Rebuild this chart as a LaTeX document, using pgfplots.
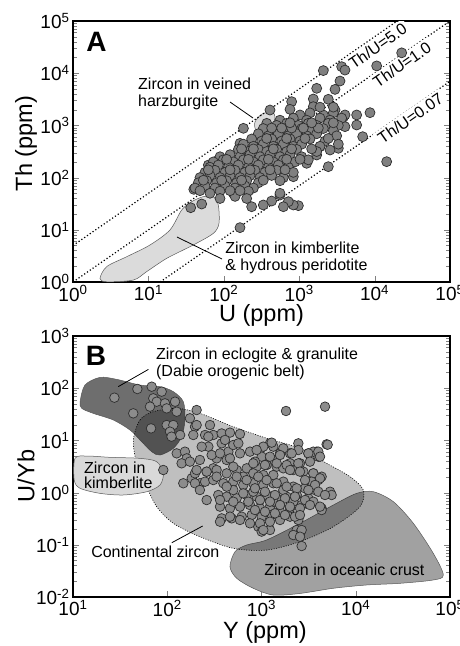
\documentclass[border=0pt]{standalone}
\usepackage{fontspec}
\setmainfont{Liberation Sans}
\usepackage{pgfplots}
\usepackage{pgfplotstable}
\pgfplotsset{compat=1.18}

\definecolor{ptfillA}{gray}{0.50}
\definecolor{ptfillB}{gray}{0.55}
\definecolor{ptedge}{gray}{0.18}
\definecolor{kimA}{gray}{0.86}
\definecolor{regedge}{gray}{0.35}
\definecolor{eclog}{gray}{0.43}
\definecolor{ocean}{gray}{0.63}
\definecolor{kimB}{gray}{0.85}

\newcommand{\annfont}{\fontsize{16}{17}\selectfont}
\newcommand{\tlab}{10\textsuperscript{\pgfmathtruncatemacro\myex{round(\tick/ln(10))}\myex}}

\pgfplotstableread{
U Th
2089 11220
3656 13340
4046 11480
10650 13800
22860 24550
3475 7080
1706 5130
2985 4900
794 2851
1539 3206
2432 3162
410 1972
755 2032
182 879
371 918
5781 1585
8690 1754
5781 1018
6950 608
14450 202
2432 162
1706 271
3304 364
1256 188
836 104
975 29
836 29.9
718 34.6
617 27.7
556 46.4
431 35.6
334 29.9
234 27.7
164 11
50.9 31.2
36.4 26.5
40 59.6
48.3 77.6
62.4 174
84.6 217
164 453
3846 1429
4046 946
1888 392
2564 338
2985 1972
1539 2286
1025 1585
1390 1738
2089 1585
2838 1738
4046 1585
556 1259
836 1380
1256 1259
1888 1380
2564 1259
3656 1380
371 1096
502 1000
682 1096
975 1000
1321 1096
1706 1000
2432 1096
3304 1000
334 871
454 794
617 871
836 794
1079 871
1462 794
2089 871
2838 794
287 692
390 631
529 692
718 631
925 692
1256 631
1706 692
3141 631
234 550
318 501
431 550
585 501
755 550
1025 501
1390 550
2198 501
182 437
247 398
334 437
454 398
617 437
836 398
1079 437
1888 398
3304 437
156 347
212 316
287 347
371 316
502 347
682 316
925 347
1706 316
89.1 251
121 275
164 251
223 275
302 251
410 275
556 251
755 275
1079 251
72.7 200
98.6 219
134 200
182 219
247 200
334 219
454 200
617 219
879 200
1321 219
65.6 158
84.6 174
115 158
156 174
212 158
287 174
390 158
529 174
718 158
56.3 126
76.4 138
104 126
141 138
191 126
259 138
352 126
502 138
836 126
48.3 100
65.6 110
89.1 100
121 110
164 100
223 110
302 100
431 110
617 100
45.9 79.4
59.3 87.1
80.4 79.4
109 87.1
148 79.4
201 87.1
287 79.4
556 87.1
41.5 63.1
56.3 69.2
76.4 63.1
104 69.2
141 63.1
191 69.2
247 63.1
65.6 50.1
89.1 55
134 50.1
212 55
556 50.1
89.1 39.8
141 43.7
201 39.8
431 891
585 891
794 891
1135 891
1795 891
371 562
682 562
1194 562
2432 562
172 355
247 355
454 355
794 355
1462 355
109 224
212 224
390 224
682 224
1025 224
62.4 141
121 141
223 141
410 141
649 141
53.6 89.1
93.7 89.1
172 89.1
334 89.1
48.3 56.2
121 56.2
164 56.2
755 1122
1462 1122
2838 1122
1888 2239
2838 2239
}\dataA

\pgfplotstableread{
Y UYb
27.5 65.9
48.2 96.6
68.4 107
87.3 85.9
71.1 64.0
77.2 55.2
94.6 51.3
121 55.2
98.6 41.1
126 35.5
65.6 44.3
43.6 33.0
67.3 17.0
98.6 19.7
116 19.7
107 14.7
137 12.7
111 11.8
174 26.5
205 38.2
197 18.3
189 12.7
284 19.7
252 12.7
308 12.7
378 13.6
126 5.65
154 6.09
161 4.53
142 3.64
90.8 2.71
148 1.51
182 1.88
222 1.51
197 2.34
262 2.52
308 2.92
273 7.59
232 7.59
378 8.79
445 6.09
334 4.53
427 4.22
262 0.72
205 19.7
273 11.8
463 14.1
591 13.3
410 10.2
502 8.17
568 8.79
174 3.92
222 4.22
296 5.25
363 5.65
463 4.53
591 5.65
755 6.09
964 6.55
1230 8.79
1335 7.59
1572 5.65
1004 4.88
1335 4.22
2007 5.65
2460 8.79
3141 5.65
3846 6.09
4909 8.41
4009 4.88
2007 3.64
2561 3.64
205 2.71
262 2.52
334 2.71
427 2.34
545 2.71
696 2.92
888 3.14
1134 3.38
1449 3.14
1705 2.92
2177 2.71
2780 2.52
3548 2.34
4345 2.02
4009 1.74
3270 1.62
197 1.51
252 1.62
308 1.74
394 1.51
502 1.62
641 1.40
819 1.51
1045 1.40
1335 1.51
1705 1.62
2177 1.30
2897 1.21
3698 1.12
5333 1.04
348 0.900
427 0.836
545 0.777
696 0.900
888 0.836
1134 0.900
1449 0.777
1850 0.836
2362 0.900
3141 0.777
5546 0.900
363 0.538
463 0.500
591 0.538
755 0.578
964 0.500
1230 0.538
1572 0.578
2007 0.500
2667 0.578
4345 0.500
378 0.321
482 0.321
616 0.346
787 0.372
1004 0.346
1282 0.372
1572 0.299
2007 0.346
2460 0.299
925 0.222
1230 0.192
1004 0.179
2362 0.192
2561 0.166
2177 0.154
2667 0.0948
1820 36.6
4721 44.3
5035 8.28
3548 6.09
363 0.277
819 2.34
1045 2.17
1335 2.17
641 2.02
502 1.12
819 1.04
1705 1.12
1335 0.670
2177 0.670
755 0.258
1572 0.431
222 1.12
1282 9.06
2460 6.55
3141 5.65
4009 6.09
4178 4.88
3270 3.92
2089 5.65
1705 7.05
1045 7.59
888 6.55
1230 4.88
1572 5.25
853 3.92
1089 3.38
1449 3.64
1850 3.38
2460 3.64
2007 2.71
2561 2.52
3548 2.34
4178 1.88
3404 1.62
2897 1.74
3698 1.40
4009 1.04
4721 0.900
3141 1.12
2362 1.21
1850 1.30
1449 1.51
1134 1.74
925 2.02
853 1.21
1089 1.04
1390 0.900
1775 0.777
2265 0.836
2897 0.722
3548 0.670
4345 0.464
4178 0.538
3270 0.578
2561 0.500
2007 0.538
1572 0.578
1230 0.670
964 0.722
853 0.464
1089 0.431
1390 0.401
1775 0.372
2265 0.346
2561 0.372
1230 0.277
964 0.258
1045 0.192
2667 0.192
2561 0.143
334 2.02
427 1.30
545 2.02
502 0.670
641 0.968
363 0.722
463 0.346
591 0.299
725 0.670
696 1.74
502 3.14
819 3.64
}\dataB

\begin{document}
\begin{tikzpicture}
\useasboundingbox (0,0) rectangle (459pt,-646pt);

% ---------------- Panel A ----------------
\begin{axis}[
  scale only axis, width=377pt, height=261pt,
  xmode=log, ymode=log,
  axis line style={line width=1.3pt},
  major tick length=6pt, minor tick length=4pt,
  xminorticks=false,
  xtick pos=left,
  ytick pos=both,
  tick label style={font=\fontsize{19}{21}\selectfont},
  xticklabel={\tlab},
  yticklabel={\tlab},
  label style={font=\fontsize{23.5}{26}\selectfont},
  at={(73pt,-282pt)}, anchor=south west,
  xmin=1, xmax=1e5, ymin=1, ymax=1e5,
  xlabel={U (ppm)}, ylabel={Th (ppm)},
  xlabel style={at={(rel axis cs:0.5,0)}, anchor=center, yshift=-33pt},
  ylabel style={at={(rel axis cs:0,0.53)}, anchor=center, yshift=47pt},
]
% kimberlite & hydrous peridotite field
\addplot[smooth cycle, fill=kimA, draw=regedge, line width=0.5pt] coordinates {
(2.28,1.17) (2.80,1.97) (5.15,3.05) (10.5,5.12) (19.3,9.91) (27.6,23.9)
(37.5,34.6) (53.6,43.2) (72.6,43.2) (84.5,29.9) (86.3,13.3) (72.6,8.55)
(39.4,5.12) (17.5,2.84) (9.48,1.58) (6.31,1.09) (2.80,1.01)};
% veined harzburgite field
\addplot[smooth cycle, fill=kimA, draw=regedge, line width=0.5pt] coordinates {
(259,1161) (321,1652) (436,1806) (478,1449) (436,974) (341,781) (267,817)};
% Th/U reference lines
\addplot[black, line width=1.2pt, dash pattern=on 1.2pt off 2.2pt] coordinates {(1,5) (20000,100000)};
\addplot[black, line width=1.2pt, dash pattern=on 1.2pt off 2.2pt] coordinates {(1,1) (100000,100000)};
\addplot[black, line width=1.2pt, dash pattern=on 1.2pt off 2.2pt] coordinates {(14.29,1) (100000,7000)};
% labels on the lines (white background masks the line)
\node[rotate=34.7, yshift=-9.5pt, anchor=center, fill=white, inner sep=2.5pt, font=\annfont] at (axis cs:9354,46770) {Th/U=5.0};
\node[rotate=34.7, yshift=-8.5pt, anchor=center, fill=white, inner sep=2.5pt, font=\annfont] at (axis cs:19900,19900) {Th/U=1.0};
\node[rotate=34.7, yshift=-8pt, anchor=center, fill=white, inner sep=2.5pt, font=\annfont] at (axis cs:25940,1816) {Th/U=0.07};
% data
\addplot[only marks, mark=*, mark size=5pt,
  mark options={fill=ptfillA, draw=ptedge, line width=0.7pt}] table[x=U, y=Th] {\dataA};
% annotations
\node[anchor=north west, inner sep=0pt, align=left, font=\annfont] at (axis cs:7.28,8090) {Zircon in veined\\harzburgite};
\draw[black, line width=0.8pt] (axis cs:121,2805) -- (axis cs:244,1387);
\node[anchor=north west, inner sep=0pt, align=left, font=\annfont] at (axis cs:104,5.84) {Zircon in kimberlite\\\& hydrous peridotite};
\draw[black, line width=0.8pt] (axis cs:23.9,7.28) -- (axis cs:94.7,2.76);
\node[font=\fontsize{28}{30}\selectfont\bfseries] at (rel axis cs:0.062,0.92) {A};
\end{axis}

% ---------------- Panel B ----------------
\begin{axis}[
  scale only axis, width=377pt, height=261pt,
  xmode=log, ymode=log,
  axis line style={line width=1.3pt},
  major tick length=6pt, minor tick length=4pt,
  xminorticks=false,
  xtick pos=left,
  ytick pos=both,
  tick label style={font=\fontsize{19}{21}\selectfont},
  xticklabel={\tlab},
  yticklabel={\tlab},
  label style={font=\fontsize{23.5}{26}\selectfont},
  at={(73pt,-597pt)}, anchor=south west,
  xmin=10, xmax=1e5, ymin=0.01, ymax=1000,
  xlabel={Y (ppm)}, ylabel={U/Yb},
  xlabel style={at={(rel axis cs:0.509,0)}, anchor=center, yshift=-35pt},
  ylabel style={at={(rel axis cs:0,0.464)}, anchor=center, yshift=47pt},
]
% oceanic crust
\addplot[smooth cycle, fill=ocean, draw=regedge, line width=0.5pt] coordinates {
(463,0.0381) (524,0.0738) (696,0.0991) (1134,0.124) (2561,0.258) (5781,0.578)
(10230,0.968) (15380,1.04) (25060,0.670) (40830,0.258) (66530,0.0685)
(84920,0.0264) (66530,0.0212) (29440,0.0183) (13060,0.0170) (5781,0.0147)
(2561,0.0117) (1336,0.0109) (818,0.0147) (546,0.0228)};
% eclogite & granulite (Dabie)
\addplot[smooth cycle, fill=eclog, draw=regedge, line width=0.5pt] coordinates {
(11.9,55.2) (13.4,115) (19.3,161) (29.0,148) (51.4,115) (83.8,107) (116,85.9)
(148,55.2) (154,24.6) (142,11.8) (116,7.05) (83.8,5.25) (68.4,6.08) (51.4,10.2)
(40.3,15.8) (26.8,24.6) (16.4,33.0) (12.4,41.1)};
% continental zircon
\addplot[smooth cycle, fill=black, fill opacity=0.25, draw=black,
  line width=0.6pt, dash pattern=on 1pt off 1.5pt] coordinates {
(43.7,10.2) (51.4,24.6) (71.1,35.5) (126,41.1) (222,33.0) (502,18.3) (1135,11.0)
(2559,7.05) (4909,3.64) (8690,2.02) (12020,1.12) (11090,0.538) (5781,0.222)
(2559,0.115) (1135,0.0794) (502,0.0855) (222,0.143) (116,0.258) (77.3,0.538)
(60.5,1.30) (47.4,3.64)};
% kimberlite
\addplot[smooth cycle, fill=kimB, draw=regedge, line width=0.5pt] coordinates {
(10.5,4.53) (14.0,5.02) (24.7,4.74) (51.4,4.53) (77.3,3.92) (90.8,2.34)
(83.8,1.40) (60.5,1.04) (34.2,0.900) (19.3,0.968) (11.9,1.21) (10.3,1.74)};
% data
\addplot[only marks, mark=*, mark size=4.8pt,
  mark options={fill=ptfillB, draw=ptedge, line width=0.7pt}] table[x=Y, y=UYb] {\dataB};
% labels
\node[anchor=north west, inner sep=0pt, align=left, font=\annfont] at (rel axis cs:0.220,0.954) {Zircon in eclogite \& granulite\\(Dabie orogenic belt)};
\draw[black, line width=0.8pt] (rel axis cs:0.120,0.806) -- (rel axis cs:0.200,0.872);
\node[anchor=north west, inner sep=0pt, align=left, font=\fontsize{16}{15}\selectfont] at (rel axis cs:0.029,0.517) {Zircon in\\kimberlite};
\node[anchor=west, inner sep=0pt, font=\annfont] at (rel axis cs:0.048,0.174) {Continental zircon};
\draw[black, line width=0.8pt] (rel axis cs:0.262,0.208) -- (rel axis cs:0.344,0.272);
\node[font=\annfont] at (rel axis cs:0.720,0.103) {Zircon in oceanic crust};
\node[font=\fontsize{28}{30}\selectfont\bfseries] at (rel axis cs:0.061,0.923) {B};
\end{axis}
\end{tikzpicture}
\end{document}
